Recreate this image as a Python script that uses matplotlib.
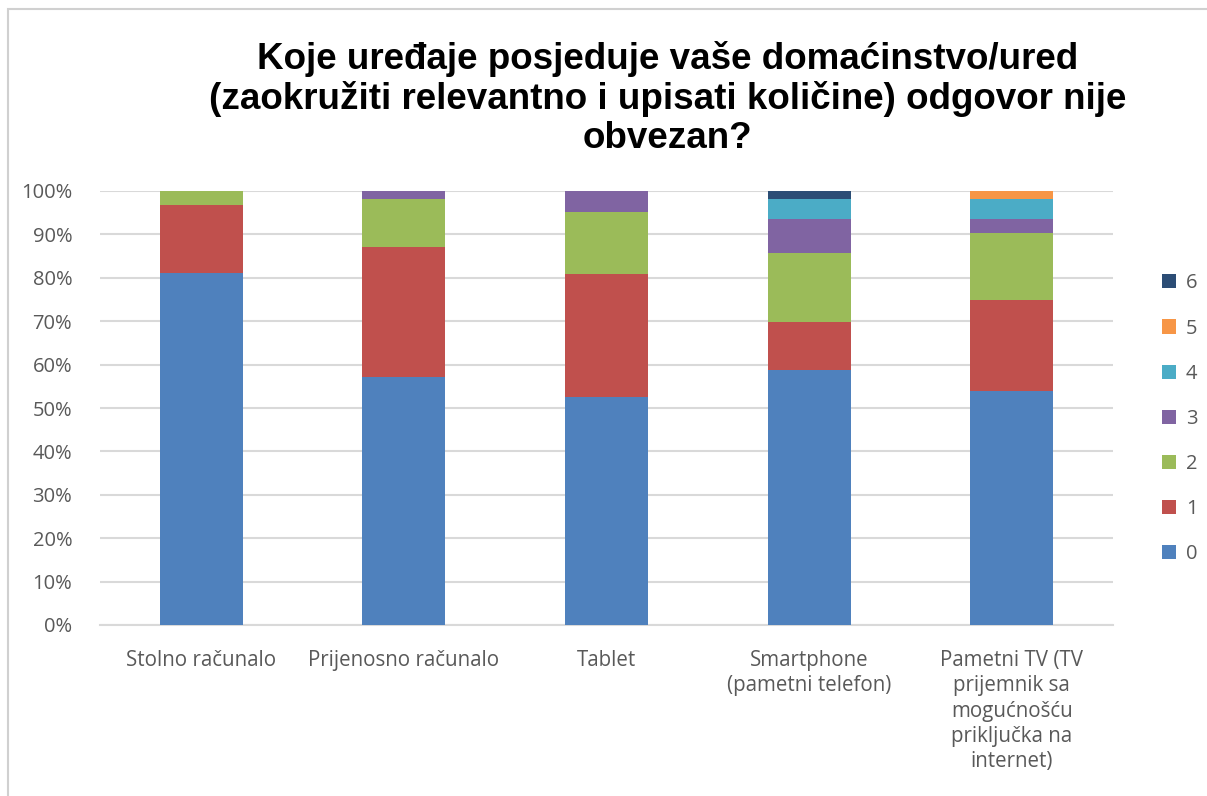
import numpy as np
import matplotlib.pyplot as plt
from matplotlib.patches import Rectangle

# categories and shares (%) per answer count
categories = ["Stolno računalo", "Prijenosno računalo", "Tablet",
              "Smartphone\n(pametni telefon)",
              "Pametni TV (TV\nprijemnik sa\nmogućnošću\npriključka na\ninternet)"]
s0 = [81.1, 57.1, 52.5, 58.8, 53.9]
s1 = [15.7, 30.0, 28.4, 11.0, 21.0]
s2 = [3.2, 11.1, 14.2, 15.8, 15.5]
s3 = [0.0, 1.8, 4.9, 7.9, 3.1]
s4 = [0.0, 0.0, 0.0, 4.7, 4.7]
s5 = [0.0, 0.0, 0.0, 0.0, 1.8]
s6 = [0.0, 0.0, 0.0, 1.8, 0.0]
series = [s0, s1, s2, s3, s4, s5, s6]
labels = ["0", "1", "2", "3", "4", "5", "6"]
colors = ["#4f81bd", "#c0504d", "#9bbb59", "#8064a2", "#4bacc6", "#f79646", "#2c4d75"]

plt.rcParams['font.family'] = ['Open Sans', 'DejaVu Sans']

fig = plt.figure(figsize=(12.07, 7.96), dpi=100)
ax = fig.add_axes([100/1207, 1-625/796, 1013/1207, 434/796])

# chart border
fig.patches.append(Rectangle((8/1207, -0.01), 1.02, 1-9/796+0.01, transform=fig.transFigure,
                             fill=False, edgecolor="#d0d0d0", linewidth=1.5))

x = np.arange(len(categories))
bottom = np.zeros(len(categories))
handles = []
for vals, lab, c in zip(series, labels, colors):
    vals = np.array(vals)
    h = ax.bar(x, vals, 0.41, bottom=bottom, color=c, label=lab, zorder=3)
    handles.append(h)
    bottom += vals

ax.set_xlim(-0.5, 4.5)
ax.set_ylim(0, 100)
ax.set_yticks(range(0, 101, 10))
ax.set_yticklabels([f"{v}%" for v in range(0, 101, 10)])
ax.set_xticks(x)
ax.set_xticklabels(categories, linespacing=1.27)
ax.tick_params(axis='both', length=0, labelsize=14.5, labelcolor="#595959")
ax.tick_params(axis='x', labelsize=14.8, pad=18)
ax.tick_params(axis='y', pad=20)
ax.grid(axis='y', color="#d9d9d9", linewidth=1.5, zorder=0)
for side in ["top", "right", "left"]:
    ax.spines[side].set_visible(False)
ax.spines["bottom"].set_color("#d9d9d9")
ax.spines["bottom"].set_linewidth(1.5)

leg = ax.legend(handles[::-1], labels[::-1], loc="center left", bbox_to_anchor=(1.03, 0.475),
                frameon=False, fontsize=14.5, labelspacing=1.25, handlelength=0.7,
                handleheight=0.7, handletextpad=0.5)
for t in leg.get_texts():
    t.set_color("#595959")

fig.text(0.553, 0.876, "Koje uređaje posjeduje vaše domaćinstvo/ured\n(zaokružiti relevantno i upisati količine) odgovor nije\nobvezan?",
         ha="center", va="center", fontsize=26.5, fontweight="bold",
         family=["Liberation Sans", "DejaVu Sans"], linespacing=1.15)

plt.savefig("out.png", dpi=100)
